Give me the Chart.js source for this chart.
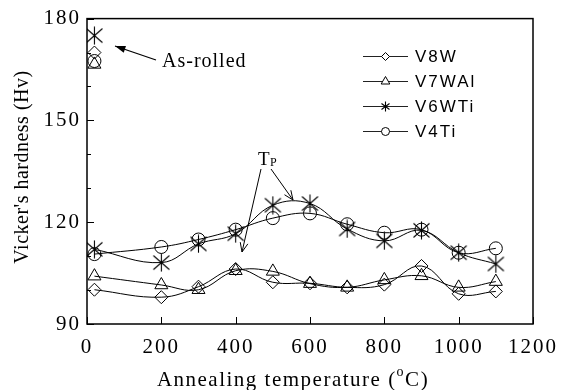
<!DOCTYPE html>
<html lang="en">
<head>
<meta charset="UTF-8">
<title>Vicker's hardness vs annealing temperature</title>
<script src="https://cdn.jsdelivr.net/npm/chart.js"></script>
<style>
  html, body { margin: 0; padding: 0; background: #fff; }
  canvas { display: block; }
</style>
</head>
<body>
<canvas id="hardness" width="565" height="390"></canvas>
<script>
// annealing temperatures (first point = room temperature)
const temps = [20, 200, 300, 400, 500, 600, 700, 800, 900, 1000, 1100];
const v8w   = [100.1, 97.9, 101.0, 106.2, 102.3, 102.0, 100.8, 101.6, 107.1, 98.9, 99.6];
const v7wal = [104.1, 101.5, 100.1, 105.7, 105.5, 101.9, 100.8, 103.0, 104.2, 100.8, 102.5];
const v6wti = [112.0, 108.1, 113.6, 116.6, 125.0, 125.5, 118.0, 114.5, 117.6, 111.0, 107.7];
const v4ti  = [110.6, 112.7, 114.9, 117.8, 121.2, 122.6, 119.4, 116.9, 117.8, 111.0, 112.3];
// as-rolled hardness, plotted at room temperature
const asRolledTemp = 20;
const asRolledHv = [170.0, 166.5, 175.0, 167.5];
const seriesNames = ['V8W', 'V7WAl', 'V6WTi', 'V4Ti'];
const xTicks = [0, 200, 400, 600, 800, 1000, 1200];
const yTicks = [90, 120, 150, 180];

function starMarker(w, h, lw) {
  const c = document.createElement('canvas');
  c.width = w; c.height = h;
  const g = c.getContext('2d');
  g.strokeStyle = '#000';
  g.lineWidth = lw;
  g.beginPath();
  g.moveTo(w / 2, 0.5); g.lineTo(w / 2, h - 0.5);
  g.moveTo(1.5, 2.5); g.lineTo(w - 1.5, h - 2.5);
  g.moveTo(w - 1.5, 2.5); g.lineTo(1.5, h - 2.5);
  g.stroke();
  return c;
}
const bigStar = starMarker(19, 19, 1.1);
const smallStar = starMarker(11, 11, 1.1);

const marks = [
  { style: 'rectRot', r: 6.5, legendStyle: 'rectRot', legendR: 4 },
  { style: 'triangle', r: 7.5, legendStyle: 'triangle', legendR: 5 },
  { style: bigStar, r: 8, legendStyle: smallStar, legendR: 5 },
  { style: 'circle', r: 6.5, legendStyle: 'circle', legendR: 4 }
];
const series = [v8w, v7wal, v6wti, v4ti];

const datasets = [];
series.forEach((vals, i) => {
  datasets.push({
    label: seriesNames[i],
    data: temps.map((t, k) => ({ x: t, y: vals[k] })),
    borderColor: '#000',
    borderWidth: 1,
    tension: 0.4,
    fill: false,
    pointStyle: marks[i].style,
    pointRadius: marks[i].r,
    pointBackgroundColor: 'rgba(0,0,0,0)',
    pointBorderColor: '#000',
    pointBorderWidth: 1
  });
});
series.forEach((vals, i) => {
  datasets.push({
    label: seriesNames[i] + ' as-rolled',
    data: [{ x: asRolledTemp, y: asRolledHv[i] }],
    showLine: false,
    pointStyle: marks[i].style,
    pointRadius: marks[i].r,
    pointBackgroundColor: 'rgba(0,0,0,0)',
    pointBorderColor: '#000',
    pointBorderWidth: 1
  });
});

function arrow(ctx, x1, y1, x2, y2, filled) {
  const a = Math.atan2(y2 - y1, x2 - x1);
  const len = filled ? 11 : 10, spread = filled ? 0.33 : 0.4;
  ctx.beginPath();
  ctx.moveTo(x1, y1);
  ctx.lineTo(x2, y2);
  ctx.stroke();
  ctx.beginPath();
  ctx.moveTo(x2 - len * Math.cos(a - spread), y2 - len * Math.sin(a - spread));
  ctx.lineTo(x2, y2);
  ctx.lineTo(x2 - len * Math.cos(a + spread), y2 - len * Math.sin(a + spread));
  if (filled) { ctx.closePath(); ctx.fill(); } else { ctx.stroke(); }
}

const decor = {
  id: 'decor',
  beforeDraw(chart) {
    chart.ctx.letterSpacing = '2px';
  },
  afterDraw(chart) {
    const ctx = chart.ctx;
    const { left, right, top, bottom } = chart.chartArea;
    const xs = chart.scales.x, ys = chart.scales.y;
    ctx.save();
    ctx.strokeStyle = '#000';
    ctx.fillStyle = '#000';

    // frame
    ctx.lineWidth = 1.5;
    ctx.strokeRect(left, top, right - left, bottom - top);

    // inward ticks
    ctx.lineWidth = 1;
    ctx.beginPath();
    xTicks.forEach(v => {
      const px = Math.round(xs.getPixelForValue(v)) + 0.5;
      ctx.moveTo(px, bottom); ctx.lineTo(px, bottom - 7);
    });
    for (let v = 90; v <= 180; v += 10) {
      const py = Math.round(ys.getPixelForValue(v)) + 0.5;
      ctx.moveTo(left, py); ctx.lineTo(left + (v % 30 === 0 ? 7 : 4), py);
    }
    ctx.stroke();

    // axis titles
    const big = '21px "Liberation Serif"', sup = '14px "Liberation Serif"';
    ctx.font = big;
    ctx.letterSpacing = '1.5px';
    ctx.textBaseline = 'alphabetic';
    ctx.textAlign = 'left';
    const t1 = 'Annealing temperature (', t3 = 'C)';
    const w1 = ctx.measureText(t1).width;
    ctx.font = sup;
    const w2 = ctx.measureText('o').width;
    ctx.font = big;
    const w3 = ctx.measureText(t3).width;
    let tx = 293 - (w1 + w2 + w3) / 2;
    ctx.fillText(t1, tx, 386);
    ctx.font = sup;
    ctx.fillText('o', tx + w1, 376);
    ctx.font = big;
    ctx.fillText(t3, tx + w1 + w2, 386);

    ctx.save();
    ctx.translate(28, 167);
    ctx.rotate(-Math.PI / 2);
    ctx.textAlign = 'center';
    ctx.font = '20px "Liberation Serif"';
    ctx.letterSpacing = '0.5px';
    ctx.fillText("Vicker's hardness (Hv)", 0, 0);
    ctx.restore();

    // as-rolled note
    ctx.textAlign = 'left';
    ctx.font = '20px "Liberation Serif"';
    ctx.letterSpacing = '1px';
    ctx.fillText('As-rolled', 162, 67);
    ctx.lineWidth = 1.3;
    arrow(ctx, 156, 60, 115, 46, true);

    // Tp note
    ctx.font = '19px "Liberation Serif"';
    ctx.letterSpacing = '0px';
    ctx.fillText('T', 258, 165);
    ctx.font = '12px "Liberation Serif"';
    ctx.fillText('P', 270, 166);
    ctx.lineWidth = 1;
    arrow(ctx, 261, 169, 242, 252, false);
    arrow(ctx, 271, 169, 293, 200, false);

    // legend
    const rows = [56, 81, 106, 131];
    ctx.font = '17px "Liberation Sans"';
    ctx.letterSpacing = '2px';
    ctx.textBaseline = 'middle';
    rows.forEach((ry, i) => {
      ctx.strokeStyle = '#222';
      ctx.lineWidth = 1;
      ctx.beginPath();
      ctx.moveTo(363, ry + 0.5); ctx.lineTo(408, ry + 0.5);
      ctx.stroke();
      ctx.fillStyle = '#fff';
      ctx.strokeStyle = '#000';
      Chart.helpers.drawPoint(ctx, {
        pointStyle: marks[i].legendStyle, radius: marks[i].legendR, borderWidth: 1
      }, 385.5, ry + 0.5);
      ctx.fillStyle = '#000';
      ctx.fillText(seriesNames[i], 415, ry + 1);
    });
    ctx.restore();
  }
};

new Chart(document.getElementById('hardness'), {
  type: 'line',
  data: { datasets },
  options: {
    responsive: false,
    animation: false,
    devicePixelRatio: 1,
    layout: { padding: { top: 14, right: 30, left: 0, bottom: 0 } },
    plugins: { legend: { display: false }, tooltip: { enabled: false } },
    scales: {
      x: {
        type: 'linear',
        min: 0,
        max: 1200,
        afterBuildTicks: s => { s.ticks = xTicks.map(v => ({ value: v })); },
        ticks: {
          color: '#000', font: { family: 'Liberation Serif', size: 21 }, padding: 11,
          maxRotation: 0, autoSkip: false, callback: v => String(v)
        },
        grid: { display: false, drawTicks: false },
        border: { display: false },
        afterFit: s => { s.height = 66; }
      },
      y: {
        min: 90,
        max: 180,
        afterBuildTicks: s => { s.ticks = yTicks.map(v => ({ value: v })); },
        ticks: { color: '#000', font: { family: 'Liberation Serif', size: 21 }, padding: 6, callback: v => String(v) },
        grid: { display: false, drawTicks: false },
        border: { display: false },
        afterFit: s => { s.width = 87; }
      }
    }
  },
  plugins: [decor]
});
</script>
</body>
</html>
